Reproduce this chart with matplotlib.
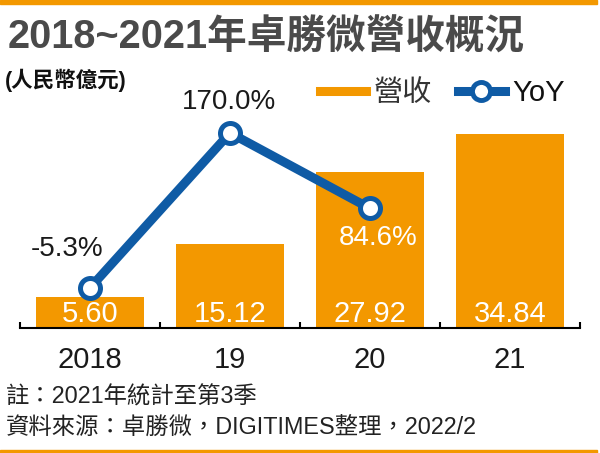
import matplotlib
matplotlib.use("Agg")
import matplotlib.pyplot as plt
from matplotlib.lines import Line2D
from matplotlib.patches import Rectangle

years = ["2018", "19", "20", "21"]
revenue = [5.60, 15.12, 27.92, 34.84]
yoy = [-5.3, 170.0, 84.6]
yoy_labels = ["-5.3%", "170.0%", "84.6%"]

orange = "#F39800"
blue = "#0F5BA5"
fam = ["Liberation Sans", "Noto Sans CJK TC"]
plt.rcParams["font.family"] = fam

fig = plt.figure(figsize=(6, 4.53), dpi=100)
fig.patch.set_facecolor("white")

# frame lines top / bottom
fig.patches.append(Rectangle((0, 1 - 3.5 / 453), 0.995, 3.5 / 453, transform=fig.transFigure,
                             color=orange, zorder=0))
fig.patches.append(Rectangle((0, 0), 0.995, 3.5 / 453, transform=fig.transFigure,
                             color=orange, zorder=0))

ax = fig.add_axes([20 / 600, 1 - 328 / 453, 560 / 600, 218 / 453])
x = list(range(len(years)))
ax.bar(x, revenue, width=0.77, color=orange, zorder=1)
ax.set_xlim(-0.5, 3.5)
ax.set_ylim(0, 39.07)
for s in ["top", "right", "left"]:
    ax.spines[s].set_visible(False)
ax.spines["bottom"].set_linewidth(1.5)
ax.set_yticks([])
ax.set_xticks([-0.5, 0.5, 1.5, 2.5, 3.5])
ax.set_xticklabels([])
ax.tick_params(axis="x", which="major", direction="in", length=4, width=1.5)
ax.set_xticks(x, minor=True)
ax.set_xticklabels(years, minor=True, fontsize=21, color="#1a1a1a")
ax.tick_params(axis="x", which="minor", length=0, pad=13)

for i, v in enumerate(revenue):
    ax.annotate(f"{v:.2f}", xy=(i, 0), xytext=(0, 4.5), textcoords="offset points",
                ha="center", va="baseline", fontsize=21, color="white", zorder=3)

ax2 = ax.twinx()
ax2.set_ylim(-50.7, 195.9)
ax2.axis("off")
ax2.plot(x[:3], yoy, color=blue, lw=6.5, marker="o", ms=14.4, mfc="white",
         mec=blue, mew=3.6, solid_capstyle="butt", zorder=4)
offsets = [(-16.6, 28), (-0.7, 22.3), (5.8, -21.6)]
colors = ["#1a1a1a", "#1a1a1a", "white"]
for i, (lab, off, c) in enumerate(zip(yoy_labels, offsets, colors)):
    ax2.annotate(lab, xy=(i, yoy[i]), xytext=off, textcoords="offset points",
                 ha="center", va="center", fontsize=20, color=c, zorder=5)

handles = [Line2D([], [], color=orange, lw=6.5),
           Line2D([], [], color=blue, lw=6.5, marker="o", ms=13, mfc="white",
                  mec=blue, mew=3.5)]
fig.legend(handles, ["營收", "YoY"], ncol=2, frameon=False, fontsize=21,
           loc="center left", bbox_to_anchor=(305 / 600, 1 - 93 / 453),
           bbox_transform=fig.transFigure, borderpad=0, handlelength=1.6,
           handletextpad=0.25, columnspacing=0.9, labelcolor=["#333333", "#111111"])

fig.text(8 / 600, 1 - 37 / 453, "2018~2021年卓勝微營收概況", fontsize=28.5,
         fontweight="bold", color="#4a4a4a", va="center", ha="left")
fig.text(5 / 600, 1 - 80 / 453, "(人民幣億元)", fontsize=15.5, fontweight="bold",
         color="#111111", va="center", ha="left")
fig.text(6 / 600, 1 - 397 / 453, "註：2021年統計至第3季", fontsize=16.8,
         color="#222222", va="center", ha="left")
fig.text(6 / 600, 1 - 428 / 453, "資料來源：卓勝微，DIGITIMES整理，2022/2", fontsize=16.8,
         color="#222222", va="center", ha="left")

fig.savefig("out.png", dpi=100)
